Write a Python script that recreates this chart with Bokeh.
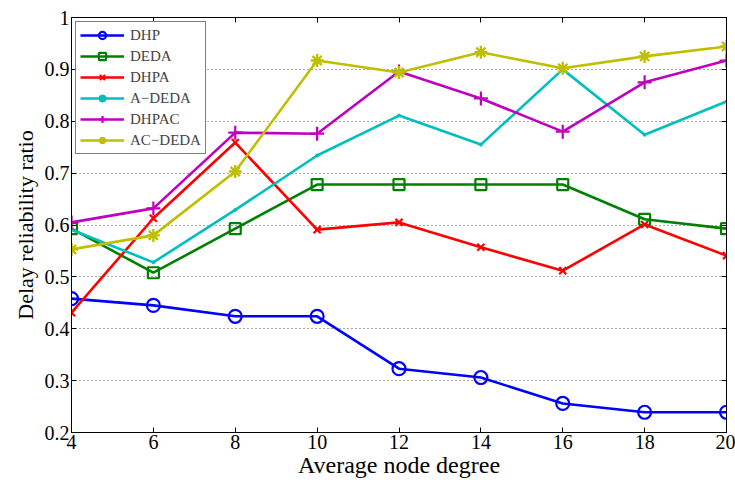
from bokeh.plotting import figure
from bokeh.models import FixedTicker, LinearAxis, Range1d, Legend, LegendItem
from bokeh.embed import file_html
from bokeh.resources import INLINE

# Average node degree
degree = [4, 6, 8, 10, 12, 14, 16, 18, 20]

dhp = [0.458, 0.445, 0.424, 0.424, 0.323, 0.306, 0.256, 0.239, 0.239]
deda = [0.593, 0.508, 0.593, 0.678, 0.678, 0.678, 0.678, 0.611, 0.593]
dhpa = [0.431, 0.613, 0.759, 0.591, 0.605, 0.557, 0.512, 0.601, 0.541]
a_deda = [0.591, 0.528, 0.629, 0.734, 0.811, 0.755, 0.900, 0.774, 0.838]
dhpac = [0.605, 0.632, 0.778, 0.776, 0.896, 0.844, 0.780, 0.875, 0.917]
ac_deda = [0.553, 0.580, 0.703, 0.917, 0.894, 0.933, 0.902, 0.925, 0.944]

x_ticks = [4, 6, 8, 10, 12, 14, 16, 18, 20]
y_ticks = [0.2, 0.3, 0.4, 0.5, 0.6, 0.7, 0.8, 0.9, 1.0]

FONT = "Liberation Serif"

p = figure(width=735, height=486, output_backend="svg", toolbar_location=None,
           x_range=Range1d(4, 20), y_range=Range1d(0.2, 1.0),
           min_border_left=71, min_border_right=9, min_border_top=17, min_border_bottom=54)
p.background_fill_color = "white"
p.border_fill_color = "white"
p.outline_line_color = "black"
p.outline_line_width = 1

# main axes
for ax in (p.xaxis[0], p.yaxis[0]):
    ax.major_tick_in = 5
    ax.major_tick_out = 0
    ax.minor_tick_in = 0
    ax.minor_tick_out = 0
    ax.axis_line_color = "black"
    ax.major_label_text_font = FONT
    ax.major_label_text_font_size = "20px"
    ax.major_label_text_color = "black"
    ax.axis_label_text_font = FONT
    ax.axis_label_text_font_style = "normal"
    ax.axis_label_text_color = "black"

p.xaxis[0].ticker = FixedTicker(ticks=x_ticks)
p.yaxis[0].ticker = FixedTicker(ticks=y_ticks)
p.yaxis[0].major_label_overrides = {1.0: "1", 1: "1"}
p.xaxis[0].axis_label = "Average node degree"
p.yaxis[0].axis_label = "Delay reliability ratio"
p.xaxis[0].axis_label_text_font_size = "24px"
p.yaxis[0].axis_label_text_font_size = "22px"
p.xaxis[0].major_label_standoff = 2
p.yaxis[0].major_label_standoff = 2
p.xaxis[0].axis_label_standoff = 0
p.yaxis[0].axis_label_standoff = 4

# mirrored tick marks on the top and right edges
top = LinearAxis(ticker=FixedTicker(ticks=x_ticks), major_label_text_font_size="0px",
                 major_tick_in=5, major_tick_out=0, minor_tick_in=0, minor_tick_out=0)
right = LinearAxis(ticker=FixedTicker(ticks=y_ticks), major_label_text_font_size="0px",
                   major_tick_in=5, major_tick_out=0, minor_tick_in=0, minor_tick_out=0)
p.add_layout(top, "above")
p.add_layout(right, "right")

p.xgrid.visible = False
p.ygrid.ticker = FixedTicker(ticks=y_ticks)
p.ygrid.grid_line_color = "#555555"
p.ygrid.grid_line_dash = "1 3"
p.ygrid.grid_line_width = 1

LW = 2.6
items = []

l = p.line(degree, dhp, line_color="#0000ff", line_width=LW)
m = p.scatter(degree, dhp, marker="circle", size=13, fill_color=None,
              line_color="#0000ff", line_width=2.2)
items.append(LegendItem(label="DHP", renderers=[l, m]))

l = p.line(degree, deda, line_color="#008000", line_width=LW)
m = p.scatter(degree, deda, marker="square", size=11, fill_color=None,
              line_color="#008000", line_width=2.2)
items.append(LegendItem(label="DEDA", renderers=[l, m]))

l = p.line(degree, dhpa, line_color="#ff0000", line_width=LW)
m = p.scatter(degree, dhpa, marker="x", size=10, line_color="#ff0000", line_width=2.2)
items.append(LegendItem(label="DHPA", renderers=[l, m]))

l = p.line(degree, a_deda, line_color="#00bfbf", line_width=LW)
m = p.scatter(degree, a_deda, marker="circle", size=3, fill_color="#00bfbf",
              line_color="#00bfbf")
items.append(LegendItem(label="A\u2212DEDA", renderers=[l, m]))

l = p.line(degree, dhpac, line_color="#bf00bf", line_width=LW)
m = p.scatter(degree, dhpac, marker="cross", size=14, line_color="#bf00bf", line_width=2.2)
items.append(LegendItem(label="DHPAC", renderers=[l, m]))

l = p.line(degree, ac_deda, line_color="#bfbf00", line_width=LW)
m = p.scatter(degree, ac_deda, marker="asterisk", size=13, line_color="#bfbf00", line_width=2.4)
items.append(LegendItem(label="AC\u2212DEDA", renderers=[l, m]))

legend = Legend(items=items, location="top_left", margin=4, padding=4, spacing=3,
                glyph_width=44, glyph_height=18, label_height=18, label_standoff=6,
                label_text_font=FONT, label_text_font_size="15px",
                border_line_color="black", border_line_width=1,
                background_fill_color="white", background_fill_alpha=1)
p.add_layout(legend)

open("out.html", "w").write(file_html(p, INLINE))
